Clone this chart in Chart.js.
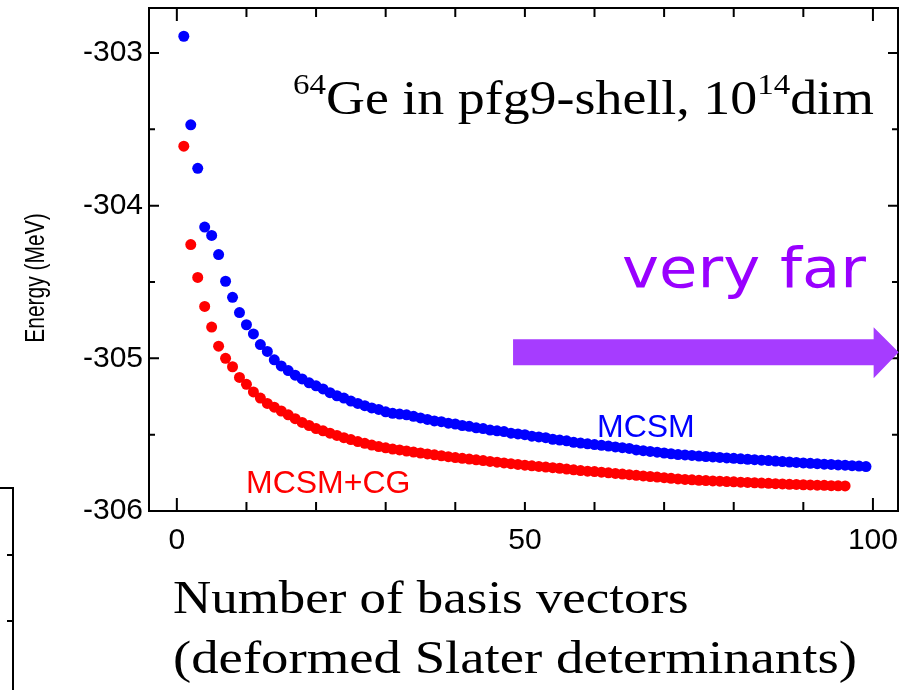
<!DOCTYPE html>
<html>
<head>
<meta charset="utf-8">
<script src="https://cdn.jsdelivr.net/npm/chart.js@4.4.1/dist/chart.umd.min.js"></script>
<style>
  html, body { margin: 0; padding: 0; background: #fff; }
  #wrap { width: 900px; height: 690px; }
</style>
</head>
<body>
<div id="wrap"><canvas id="chart" width="900" height="690"></canvas></div>
<script>
// energies (MeV) vs number of basis vectors
const mcsmEnergy = [
  -302.89, -303.47, -303.755, -304.14, -304.195, -304.32, -304.495, -304.60, -304.70, -304.78,
  -304.84, -304.91, -304.955, -305.01, -305.05, -305.08, -305.11, -305.135, -305.16, -305.18,
  -305.20, -305.225, -305.245, -305.26, -305.28, -305.295, -305.31, -305.325, -305.335, -305.35,
  -305.36, -305.365, -305.37, -305.38, -305.39, -305.40, -305.41, -305.415, -305.425, -305.43,
  -305.44, -305.445, -305.455, -305.46, -305.47, -305.475, -305.48, -305.49, -305.495, -305.50,
  -305.51, -305.515, -305.52, -305.53, -305.535, -305.54, -305.55, -305.555, -305.56, -305.565,
  -305.57, -305.575, -305.58, -305.585, -305.59, -305.60, -305.605, -305.61, -305.615, -305.62,
  -305.625, -305.63, -305.633, -305.636, -305.64, -305.643, -305.646, -305.649, -305.652, -305.655,
  -305.658, -305.661, -305.664, -305.667, -305.67, -305.673, -305.676, -305.679, -305.682, -305.685,
  -305.688, -305.69, -305.693, -305.695, -305.698, -305.70, -305.703, -305.706, -305.709
];
const mcsmCgEnergy = [
  -303.61, -304.255, -304.47, -304.66, -304.795, -304.92, -305.00, -305.055, -305.125, -305.17,
  -305.22, -305.26, -305.295, -305.32, -305.345, -305.37, -305.395, -305.42, -305.44, -305.46,
  -305.475, -305.49, -305.505, -305.52, -305.532, -305.545, -305.557, -305.568, -305.578, -305.586,
  -305.594, -305.60, -305.607, -305.614, -305.62, -305.626, -305.632, -305.638, -305.644, -305.65,
  -305.655, -305.66, -305.665, -305.67, -305.675, -305.68, -305.685, -305.69, -305.695, -305.70,
  -305.704, -305.708, -305.712, -305.716, -305.72, -305.725, -305.73, -305.735, -305.739, -305.742,
  -305.746, -305.75, -305.754, -305.758, -305.762, -305.766, -305.77, -305.774, -305.778, -305.782,
  -305.786, -305.79, -305.793, -305.796, -305.799, -305.801, -305.803, -305.805, -305.807, -305.809,
  -305.811, -305.813, -305.815, -305.817, -305.819, -305.821, -305.823, -305.825, -305.826, -305.828,
  -305.829, -305.831, -305.832, -305.834, -305.835, -305.836
];
const xTickLabels = [0, 50, 100];
const xTickMarks = [0, 10, 20, 30, 40, 50, 60, 70, 80, 90, 100];
const yTickLabels = [-306, -305, -304, -303];
const yMinorTicks = [-305.5, -304.5, -303.5];

function toPoints(vals) {
  return vals.map((v, i) => ({ x: i + 1, y: v }));
}

function stretchText(ctx, text, x, y, sx, align) {
  ctx.save();
  ctx.translate(x, y);
  ctx.scale(sx, 1);
  ctx.textAlign = align || 'left';
  ctx.fillText(text, 0, 0);
  ctx.restore();
}

const decor = {
  id: 'decor',
  afterDraw(chart) {
    const ctx = chart.ctx;
    const a = chart.chartArea;
    const xs = chart.scales.x, ys = chart.scales.y;
    ctx.save();
    ctx.strokeStyle = '#000';
    ctx.lineWidth = 2;
    ctx.strokeRect(a.left, a.top, a.right - a.left, a.bottom - a.top);
    ctx.beginPath();
    xTickMarks.forEach(v => {
      const px = xs.getPixelForValue(v);
      const len = (v === 0 || v === 100) ? 13 : 9;
      ctx.moveTo(px, a.bottom); ctx.lineTo(px, a.bottom - len);
      ctx.moveTo(px, a.top); ctx.lineTo(px, a.top + len);
    });
    yTickLabels.forEach(v => {
      const py = ys.getPixelForValue(v);
      ctx.moveTo(a.left, py); ctx.lineTo(a.left + 10, py);
      ctx.moveTo(a.right, py); ctx.lineTo(a.right - 10, py);
    });
    yMinorTicks.forEach(v => {
      const py = ys.getPixelForValue(v);
      ctx.moveTo(a.left, py); ctx.lineTo(a.left + 6, py);
      ctx.moveTo(a.right, py); ctx.lineTo(a.right - 6, py);
    });
    ctx.stroke();

    // edge of a neighbouring panel at the far left
    ctx.beginPath();
    ctx.moveTo(0, 488); ctx.lineTo(13, 488); ctx.lineTo(13, 690);
    ctx.moveTo(7, 555); ctx.lineTo(13, 555);
    ctx.moveTo(7, 621); ctx.lineTo(13, 621);
    ctx.stroke();

    // y axis title (glyphs a bit wider across, like the source)
    ctx.fillStyle = '#000';
    ctx.font = '21px "Liberation Sans", Arial, sans-serif';
    ctx.save();
    ctx.translate(36, 278);
    ctx.rotate(-Math.PI / 2);
    ctx.scale(1, 1.35);
    ctx.textAlign = 'center';
    ctx.textBaseline = 'middle';
    ctx.fillText('Energy (MeV)', 0, 0);
    ctx.restore();

    // x axis title, two lines
    ctx.font = '46px "Liberation Serif", "Times New Roman", serif';
    stretchText(ctx, 'Number of basis vectors', 173, 613, 1.15);
    stretchText(ctx, '(deformed Slater determinants)', 173, 673, 1.19);

    // nucleus label with superscripts
    const big = '49px "Liberation Serif", "Times New Roman", serif';
    const small = '30px "Liberation Serif", "Times New Roman", serif';
    const parts = [['64', true], ['Ge in pfg9-shell, 10', false], ['14', true], ['dim', false]];
    const sx = 1.1;
    let total = 0;
    parts.forEach(p => { ctx.font = p[1] ? small : big; total += ctx.measureText(p[0]).width * sx; });
    let cx = 874 - total;
    parts.forEach(p => {
      ctx.font = p[1] ? small : big;
      stretchText(ctx, p[0], cx, p[1] ? 94 : 114, sx);
      cx += ctx.measureText(p[0]).width * sx;
    });

    // series labels
    ctx.font = '32px "Liberation Sans", Arial, sans-serif';
    ctx.fillStyle = '#0000ff';
    ctx.textAlign = 'left';
    ctx.fillText('MCSM', 597, 437);
    ctx.fillStyle = '#ff0000';
    ctx.fillText('MCSM+CG', 246, 493);

    // "very far" and arrow
    ctx.fillStyle = '#9900ff';
    ctx.font = '56px "DejaVu Sans", sans-serif';
    const vw = ctx.measureText('very far').width;
    stretchText(ctx, 'very far', 622, 287, 244 / vw);

    const yMid = ys.getPixelForValue(-304.96);
    const x0 = xs.getPixelForValue(48.3);
    const x1 = xs.getPixelForValue(100.1);
    const x2 = xs.getPixelForValue(103.7);
    ctx.fillStyle = '#a63cff';
    ctx.beginPath();
    ctx.moveTo(x0, yMid - 13);
    ctx.lineTo(x1, yMid - 13);
    ctx.lineTo(x1, yMid - 25);
    ctx.lineTo(x2, yMid);
    ctx.lineTo(x1, yMid + 26);
    ctx.lineTo(x1, yMid + 13);
    ctx.lineTo(x0, yMid + 13);
    ctx.closePath();
    ctx.fill();
    ctx.restore();
  }
};

new Chart(document.getElementById('chart').getContext('2d'), {
  type: 'scatter',
  data: {
    datasets: [
      {
        label: 'MCSM+CG',
        data: toPoints(mcsmCgEnergy),
        backgroundColor: '#ff0000',
        borderWidth: 0,
        pointRadius: 5.5
      },
      {
        label: 'MCSM',
        data: toPoints(mcsmEnergy),
        backgroundColor: '#0000ff',
        borderWidth: 0,
        pointRadius: 5.5
      }
    ]
  },
  options: {
    responsive: false,
    animation: false,
    layout: { autoPadding: false, padding: { top: 8, right: 2, left: 0, bottom: 0 } },
    plugins: { legend: { display: false }, tooltip: { enabled: false } },
    scales: {
      x: {
        type: 'linear',
        min: -4,
        max: 103.6,
        grid: { display: false, drawTicks: false },
        border: { display: false },
        afterBuildTicks: s => { s.ticks = xTickLabels.map(v => ({ value: v })); },
        afterFit: s => { s.height = 179; s.paddingLeft = 0; s.paddingRight = 0; },
        ticks: {
          color: '#000',
          padding: 12,
          maxRotation: 0,
          font: { family: '"Liberation Sans", Arial, sans-serif', size: 30 }
        }
      },
      y: {
        type: 'linear',
        min: -306,
        max: -302.705,
        grid: { display: false, drawTicks: false },
        border: { display: false },
        afterBuildTicks: s => { s.ticks = yTickLabels.map(v => ({ value: v })); },
        afterFit: s => { s.width = 149; s.paddingTop = 0; s.paddingBottom = 0; },
        ticks: {
          color: '#000',
          padding: 6,
          font: { family: '"Liberation Sans", Arial, sans-serif', size: 30 }
        }
      }
    }
  },
  plugins: [decor]
});
</script>
</body>
</html>
